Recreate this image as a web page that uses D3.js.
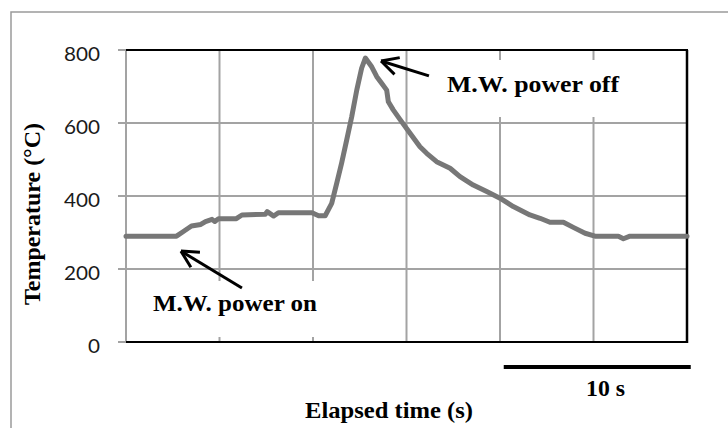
<!DOCTYPE html>
<html>
<head>
<meta charset="utf-8">
<script src="https://cdn.jsdelivr.net/npm/d3@7"></script>
<style>
  body { margin: 0; background: #fff; }
  .lbl { font-family: "Liberation Serif", "Times New Roman", serif; font-weight: bold; fill: #000; }
  .tick { font-family: Lato, "Open Sans", sans-serif; fill: #1a1a1a; }
</style>
</head>
<body>
<svg id="chart"></svg>
<script>
// axis ticks
const timeTicks = [0, 5, 10, 15, 20, 25, 30];
const tempTicks = [0, 200, 400, 600, 800];

// temperature trace (s, °C)
const elapsedTime = [0, 2.7, 3.05, 3.5, 4.0, 4.25, 4.6, 4.75, 4.95, 5.9, 6.2, 7.45, 7.55, 7.9, 8.15, 9.95,
  10.3, 10.65, 11.0, 11.27, 11.53, 11.8, 12.07, 12.34, 12.6, 12.8, 13.14, 13.41, 13.67, 13.94, 14.03,
  14.29, 14.65, 15.19, 15.72, 16.08, 16.61, 17.33, 17.86, 18.57, 19.29, 20.0, 20.71, 21.6, 22.14,
  22.67, 23.39, 23.92, 24.55, 25.08, 26.33, 26.6, 26.95, 30];
const temperature = [290, 290, 302, 318, 322, 330, 336, 330, 338, 338, 348, 350, 357, 345, 354, 354,
  346, 346, 380, 435, 490, 553, 617, 690, 750, 778, 754, 727, 709, 690, 658,
  636, 610, 572, 535, 517, 494, 476, 453, 430, 412, 394, 371, 348, 339,
  328, 328, 314, 298, 290, 290, 283, 290, 290];

// annotations: arrow tip and tail in data units, text placement in pixels
const annotations = [
  { text: "M.W. power off", tip: [13.64, 770], tail: [16.2, 729], tx: 447, ty: 92, tlen: 172, box: [425, 60, 215, 57] },
  { text: "M.W. power on", tip: [2.94, 249], tail: [6.2, 148], tx: 153, ty: 311, tlen: 164, box: [140, 281, 190, 56] }
];
const scaleBar = { start: 20.2, length: 10, label: "10 s" };

const W = 728, H = 428;
const svg = d3.select("#chart").attr("width", W).attr("height", H);

const x = d3.scaleLinear().domain([0, 30]).range([126, 687]);
const y = d3.scaleLinear().domain([0, 800]).range([342, 50]);

// outer frame (cropped on right and bottom)
svg.append("rect")
  .attr("x", 11).attr("y", 12).attr("width", 740).attr("height", 440)
  .attr("fill", "none").attr("stroke", "#9a9a9a").attr("stroke-width", 1.5);

// gridlines
svg.append("g").selectAll("line").data(timeTicks).join("line")
  .attr("x1", d => x(d)).attr("x2", d => x(d))
  .attr("y1", y(0)).attr("y2", y(800))
  .attr("stroke", "#a3a3a3").attr("stroke-width", 2);

svg.append("g").selectAll("line").data(tempTicks).join("line")
  .attr("x1", x(0) - 8).attr("x2", x(30))
  .attr("y1", d => y(d)).attr("y2", d => y(d))
  .attr("stroke", "#a3a3a3").attr("stroke-width", 2);

// white boxes behind the annotation text
svg.append("g").selectAll("rect").data(annotations).join("rect")
  .attr("x", d => d.box[0]).attr("y", d => d.box[1])
  .attr("width", d => d.box[2]).attr("height", d => d.box[3])
  .attr("fill", "#fff");

// plot border: top, right and bottom in black
const border = svg.append("g").attr("stroke", "#000").attr("stroke-width", 2);
border.append("line").attr("x1", x(0)).attr("x2", x(30) + 1).attr("y1", y(800)).attr("y2", y(800));
border.append("line").attr("x1", x(30)).attr("x2", x(30)).attr("y1", y(800)).attr("y2", y(0) + 1).attr("stroke-width", 2.5);
border.append("line").attr("x1", x(0)).attr("x2", x(30) + 1).attr("y1", y(0)).attr("y2", y(0));

// y tick labels
svg.append("g").selectAll("text").data(tempTicks).join("text")
  .attr("class", "tick")
  .attr("x", 100).attr("y", d => y(d) + 4)
  .attr("dy", "0.35em")
  .attr("text-anchor", "end")
  .style("font-size", "19px")
  .attr("textLength", d => String(d).length * 12)
  .attr("lengthAdjust", "spacingAndGlyphs")
  .text(d => d);

// temperature trace
const trace = elapsedTime.map((t, i) => ({ t: t, v: temperature[i] }));
const line = d3.line().x(d => x(d.t)).y(d => y(d.v));
svg.append("path")
  .datum(trace)
  .attr("d", line)
  .attr("fill", "none")
  .attr("stroke", "#777")
  .attr("stroke-width", 5)
  .attr("stroke-linejoin", "round")
  .attr("stroke-linecap", "round");

// annotation arrows and text
annotations.forEach(a => {
  const tx = x(a.tip[0]), ty = y(a.tip[1]);
  const lx = x(a.tail[0]), ly = y(a.tail[1]);
  const ang = Math.atan2(ly - ty, lx - tx);
  const g = svg.append("g").attr("stroke", "#000").attr("stroke-width", 3).attr("fill", "none");
  g.append("line").attr("x1", tx).attr("y1", ty).attr("x2", lx).attr("y2", ly);
  [-0.48, 0.48].forEach(da => {
    g.append("line")
      .attr("x1", tx).attr("y1", ty)
      .attr("x2", tx + 19 * Math.cos(ang + da))
      .attr("y2", ty + 19 * Math.sin(ang + da));
  });
  svg.append("text").attr("class", "lbl")
    .attr("x", a.tx).attr("y", a.ty)
    .style("font-size", "24px")
    .attr("textLength", a.tlen).attr("lengthAdjust", "spacingAndGlyphs")
    .text(a.text);
});

// scale bar
svg.append("line")
  .attr("x1", x(scaleBar.start)).attr("x2", x(scaleBar.start + scaleBar.length))
  .attr("y1", 367).attr("y2", 367)
  .attr("stroke", "#000").attr("stroke-width", 4);
svg.append("text").attr("class", "lbl")
  .attr("x", 586).attr("y", 396)
  .style("font-size", "23px")
  .attr("textLength", 39).attr("lengthAdjust", "spacingAndGlyphs")
  .text(scaleBar.label);

// axis titles
svg.append("text").attr("class", "lbl")
  .attr("x", 305).attr("y", 418)
  .style("font-size", "23px")
  .attr("textLength", 168).attr("lengthAdjust", "spacingAndGlyphs")
  .text("Elapsed time (s)");

svg.append("text").attr("class", "lbl")
  .attr("transform", "translate(40,305) rotate(-90)")
  .style("font-size", "24px")
  .attr("textLength", 182).attr("lengthAdjust", "spacingAndGlyphs")
  .text("Temperature (\u00B0C)");
</script>
</body>
</html>
